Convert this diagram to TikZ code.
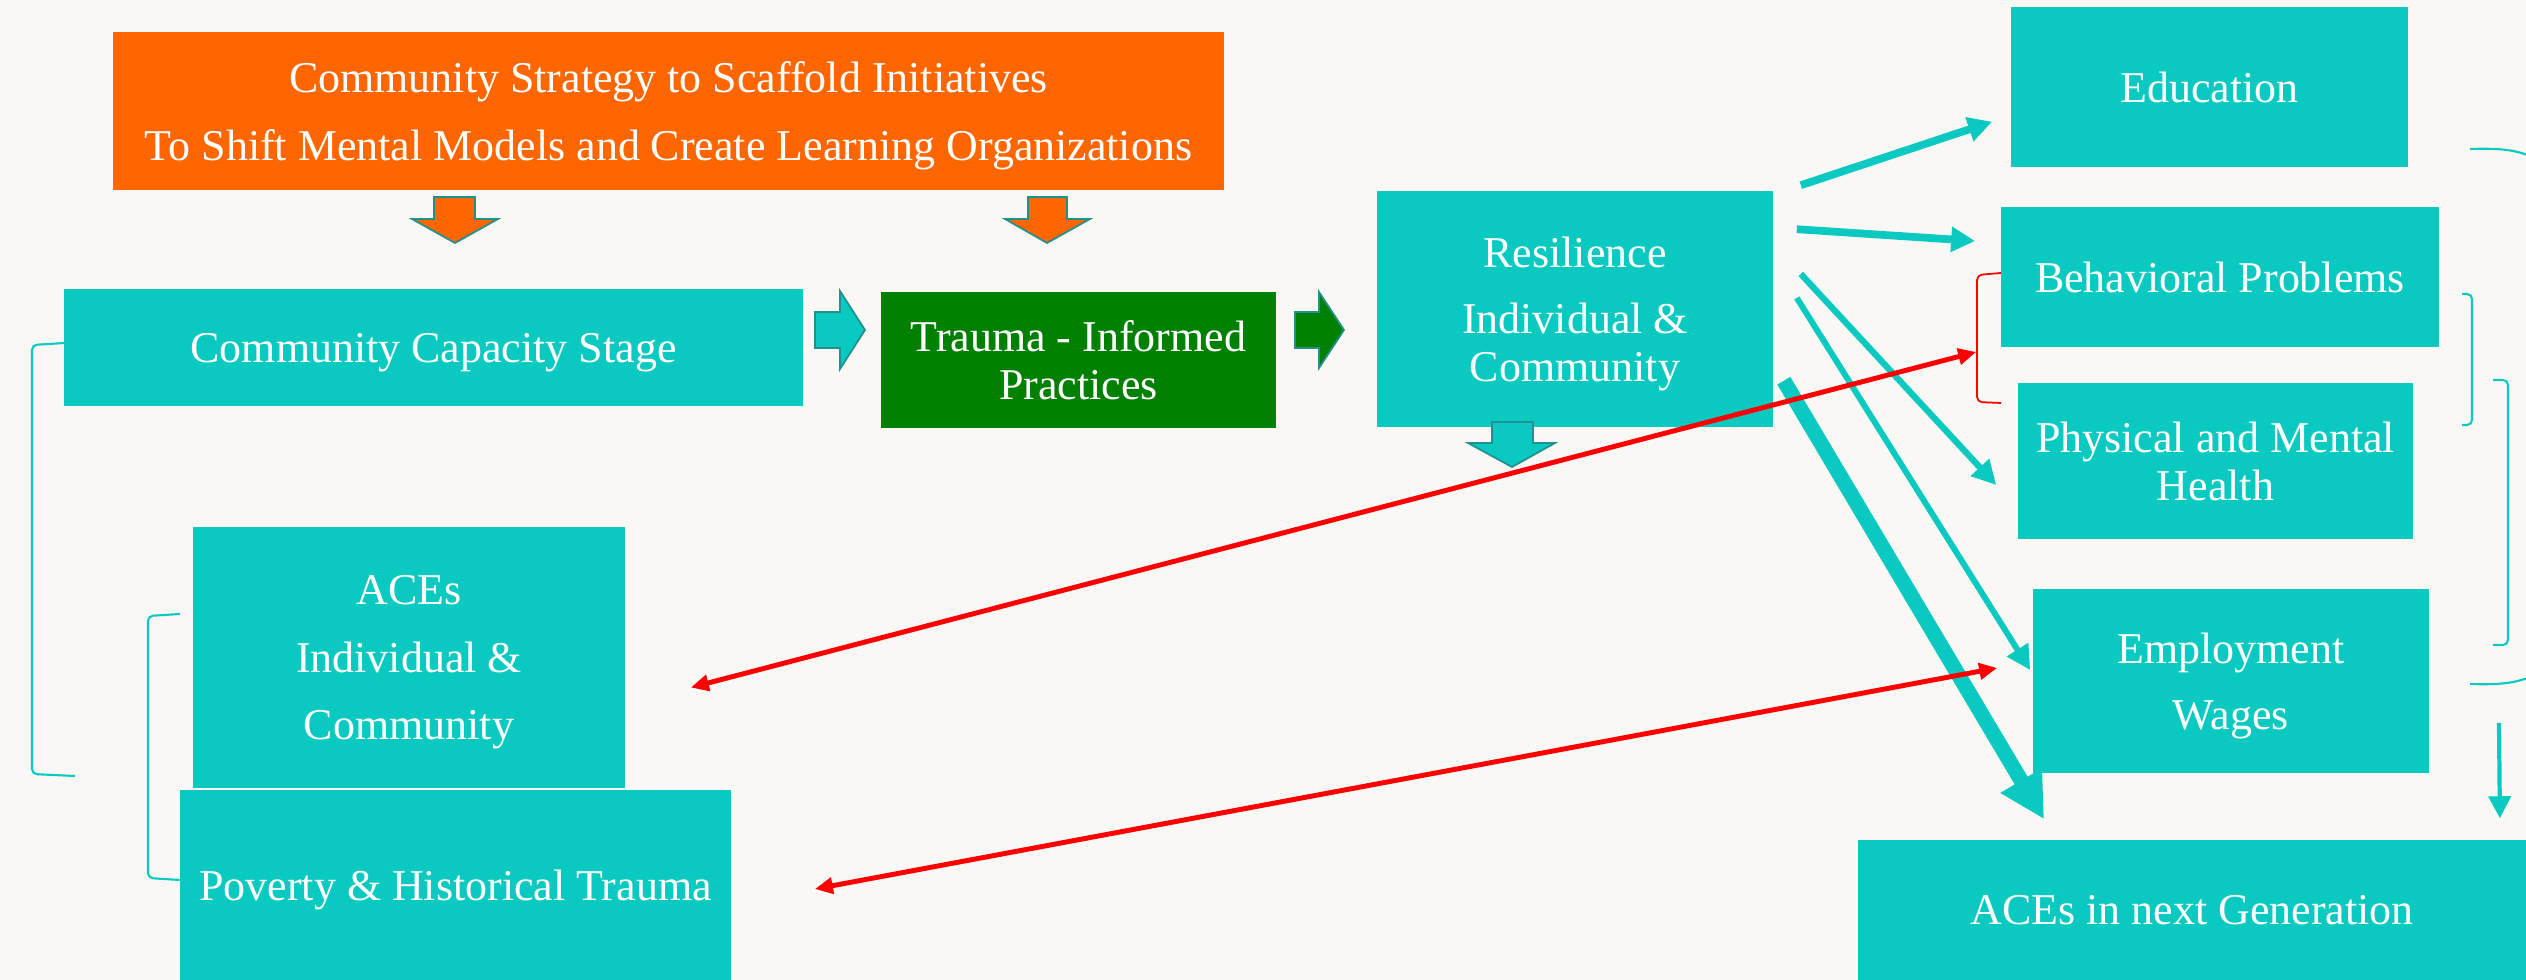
\documentclass[tikz,border=0pt]{standalone}
\usepackage{fontspec}
\setmainfont{Liberation Serif}
\usepackage{tikz}
\usetikzlibrary{arrows.meta, calc}

\definecolor{aqua}{RGB}{10,201,192}
\definecolor{burnt}{RGB}{255,102,0}
\definecolor{leaf}{RGB}{0,128,0}
\definecolor{rim}{RGB}{32,145,145}
\definecolor{paper}{RGB}{250,248,245}

\begin{document}
\begin{tikzpicture}[x=0.01cm, y=-0.01cm]

  % Define styles for the boxes and the links
  \tikzstyle{box} = [rectangle, inner sep=0pt, text=white, align=center, text depth=0pt, font=\fontsize{12.5}{13.7}\selectfont]
  \tikzstyle{tealbox} = [box, fill=aqua]
  \tikzstyle{orangebox} = [box, fill=burnt]
  \tikzstyle{greenbox} = [box, fill=leaf]
  \tikzstyle{blockarrow} = [draw=rim, line width=0.5pt, line join=miter]
  \tikzstyle{link} = [-{Triangle[length=0.24cm, width=0.24cm]}, aqua, line width=2.2pt]
  \tikzstyle{redlink} = [{Triangle[length=0.18cm, width=0.16cm]}-{Triangle[length=0.18cm, width=0.16cm]}, red, line width=1.4pt]
  \tikzstyle{tealbracket} = [aqua, line width=0.6pt, rounded corners=0.05cm]
  \tikzstyle{redbracket} = [red, line width=0.5pt, rounded corners=0.05cm]

  \path[use as bounding box, fill=paper] (0,0) rectangle (2526,980);

  \node (strategy) [orangebox, minimum width=11.11cm, minimum height=1.58cm] at (668.5,111) {Community Strategy to Scaffold Initiatives\\[5.4pt] To Shift Mental Models and Create Learning Organizations};
  \node (ccs) [tealbox, minimum width=7.39cm, minimum height=1.17cm] at (433.5,347.5) {Community Capacity Stage};
  \node (trauma) [greenbox, minimum width=3.95cm, minimum height=1.36cm] at (1078.5,360) {Trauma - Informed\\Practices};
  \node (resil) [tealbox, minimum width=3.96cm, minimum height=2.36cm] at (1575,309) {Resilience\\[5pt] Individual \&\\Community};
  \node (edu) [tealbox, minimum width=3.97cm, minimum height=1.6cm] at (2209.5,87) {Education};
  \node (behav) [tealbox, minimum width=4.38cm, minimum height=1.4cm] at (2220,277) {Behavioral Problems};
  \node (health) [tealbox, minimum width=3.95cm, minimum height=1.56cm] at (2215.5,461) {Physical and Mental\\Health};
  \node (employ) [tealbox, minimum width=3.96cm, minimum height=1.84cm] at (2231,681) {Employment\\[5pt] Wages};
  \node (nextgen) [tealbox, minimum width=6.68cm, minimum height=1.4cm] at (2192,910) {ACEs in next Generation};
  \node (aces) [tealbox, minimum width=4.32cm, minimum height=2.61cm] at (409,657.5) {ACEs\\[5.4pt] Individual \&\\[5.4pt] Community};
  \node (poverty) [tealbox, minimum width=5.51cm, minimum height=1.9cm] at (455.5,885) {Poverty \& Historical Trauma};

  % block arrows
  \draw[blockarrow, fill=burnt] (434,197) -- (475,197) -- (475,219) -- (498,219) -- (455,243) -- (412,219) -- (434,219) -- cycle;
  \draw[blockarrow, fill=burnt] (1028,197) -- (1067,197) -- (1067,219) -- (1090,219) -- (1047,243) -- (1005,219) -- (1028,219) -- cycle;
  \draw[blockarrow, fill=aqua] (815,312) -- (840,312) -- (840,291) -- (865,330) -- (840,369) -- (840,348) -- (815,348) -- cycle;
  \draw[blockarrow, fill=leaf] (1295,312) -- (1319,312) -- (1319,292) -- (1344,330) -- (1319,368) -- (1319,348) -- (1295,348) -- cycle;
  \draw[blockarrow, fill=aqua] (1492,422) -- (1533,422) -- (1533,443) -- (1555,443) -- (1512,467) -- (1468,443) -- (1492,443) -- cycle;

  % brackets
  \draw[tealbracket] (65,343) -- (32,345) -- (32,774) -- (75,776);
  \draw[tealbracket] (180,614) -- (148,616) -- (148,878) -- (180,880);
  \draw[redbracket] (2001,273) -- (1977,275) -- (1977,402) -- (2001,403);
  \draw[tealbracket] (2462,294) -- (2472,294) -- (2472,425) -- (2462,425);
  \draw[tealbracket] (2493,380) -- (2508,380) -- (2508,645) -- (2493,645);
  \draw[tealbracket] (2470,149) .. controls (2500,148) and (2515,150) .. (2530,156);
  \draw[tealbracket] (2470,684) .. controls (2500,685) and (2515,683) .. (2530,677);
  \coordinate (bracetip) at (2499,723);

  \draw[link] ($(resil.north east)+(27,-5)$) -- ($(edu.south west)+(-18,-46)$);
  \draw[link] ($(resil.north east)+(23,39)$) -- ($(behav.west)+(-25,-36)$);
  \draw[link, line width=1.8pt] ($(resil.east)+(27,-35)$) -- ($(health.west)+(-21,24)$);
  \draw[link, line width=1.7pt] ($(resil.east)+(23,-11)$) -- ($(employ.west)+(-2,-11)$);
  \draw[link, line width=4.3pt, -{Triangle[length=0.45cm, width=0.45cm]}] ($(resil.south east)+(10,-47)$) -- ($(nextgen.north west)+(187,-20)$);
  \draw[link, line width=1.2pt, -{Triangle[length=0.22cm, width=0.22cm]}] (bracetip) -- ($(nextgen.north east)+(-27,-21)$);

  \draw[redlink] ($(aces.east)+(65,30)$) -- ($(behav.west)+(-24,75)$);
  \draw[redlink] ($(poverty.east)+(83,4)$) -- ($(employ.west)+(-35,-13)$);

\end{tikzpicture}
\end{document}
